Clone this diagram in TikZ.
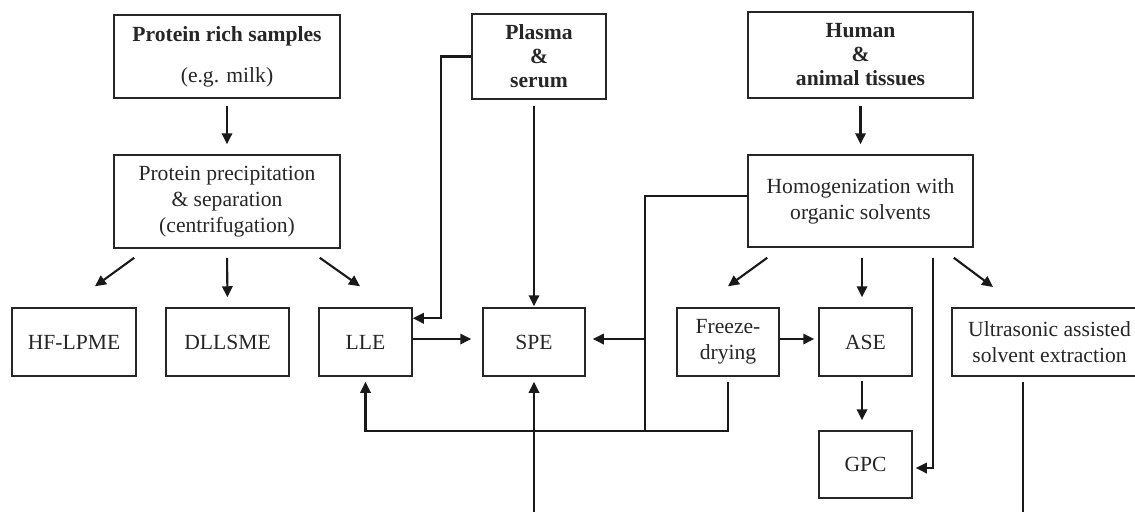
\documentclass[tikz,border=0pt]{standalone}
\usepackage{fontspec}
\setmainfont{Liberation Serif}
\usetikzlibrary{arrows.meta,calc}
\begin{document}
\begin{tikzpicture}[x=0.5pt,y=-0.5pt,
  box/.style={draw=black!85,line width=0.75pt,rectangle,inner sep=0pt,align=center,
    font=\fontsize{10.8}{13}\selectfont,text=black!85},
  bbox/.style={box,font=\fontsize{10.8}{12}\selectfont\bfseries},
  conn/.style={draw=black!90,line width=1.05pt},
  arr/.style={conn,-{Triangle[length=5.5pt,width=5.2pt]}}]
\useasboundingbox (0,0) rectangle (1135,511);
\clip (0,0) rectangle (1135,511);
% boxes
\node[box,minimum width=113pt,minimum height=41.5pt] (prs) at (227,56.5)
  {\textbf{Protein rich samples}\\[7.5pt](e.g. milk)};
\node[box,minimum width=113pt,minimum height=46.5pt] (ppt) at (227,201.5)
  {Protein precipitation\\\& separation\\(centrifugation)};
\node[bbox,minimum width=67pt,minimum height=42.5pt] (plasma) at (539,56.5)
  {Plasma\\\&\\serum};
\node[bbox,minimum width=112.5pt,minimum height=43pt] (human) at (860.5,55)
  {Human\\\&\\animal tissues};
\node[box,minimum width=112.5pt,minimum height=46pt] (homog) at (860.5,201)
  {Homogenization with\\organic solvents};
\node[box,minimum width=62pt,minimum height=34pt] (hf) at (74,342) {HF-LPME};
\node[box,minimum width=61.5pt,minimum height=34pt] (dll) at (227.5,342) {DLLSME};
\node[box,minimum width=46.5pt,minimum height=34pt] (lle) at (365.5,342) {LLE};
\node[box,minimum width=51pt,minimum height=34pt] (spe) at (534,342) {SPE};
\node[box,minimum width=51pt,minimum height=34pt] (frz) at (728,342) {Freeze-\\drying};
\node[box,minimum width=46.5pt,minimum height=34pt] (ase) at (865.5,342) {ASE};
\node[box,minimum width=46.5pt,minimum height=33.5pt] (gpc) at (865.5,464.5) {GPC};
\node[box,minimum width=97.5pt,minimum height=34pt] (ultra) at (1049.5,342)
  {Ultrasonic assisted\\solvent extraction};
% free ends
\coordinate (spein) at (534,515);
\coordinate (uout) at (1023,515);
\coordinate (bot) at (0,431);
% connectors
\draw[arr,shorten <=3.5pt,shorten >=5pt] (prs.south) -- (ppt.north);
\draw[arr,shorten <=3.5pt,shorten >=5pt] (human.south) -- (homog.north);
\draw[arr] ($(ppt.south west)+(21,9)$) -- ($(hf.north)+(21,-21)$);
\draw[arr,shorten <=4.5pt,shorten >=5pt] (ppt.south) -- (dll.north);
\draw[arr] ($(ppt.south east)+(-21,9)$) -- ($(lle.north)+(-5.5,-21)$);
\draw[arr] (plasma.west) -- ++(-30,0) |- ($(lle.north east)+(0,11)$);
\draw[arr,shorten <=3pt,shorten >=0.5pt] (spe.north |- plasma.south) -- (spe.north);
\draw[arr,shorten >=5.5pt] ($(lle.east)+(0,-3)$) -- ($(spe.west)+(0,-3)$);
\draw[conn] ($(homog.west)+(0,-5)$) -- ++(-102,0) coordinate (hj) -- (hj |- bot);
\draw[arr,shorten >=3.5pt] ($(hj |- spe.east)+(0,-3)$) -- ($(spe.east)+(0,-3)$);
\draw[arr,shorten <=2.5pt,shorten >=2.5pt] (frz.south) -- (frz.south |- bot) -| (lle.south);
\draw[arr,shorten >=2.5pt] (spein) -- (spe.south);
\draw[arr] ($(homog.south west)+(20,10)$) -- ($(frz.north)+(0,-21)$);
\draw[arr,shorten <=5pt,shorten >=5pt] ($(homog.south)+(1.5,0)$) -- ($(ase.north)+(-3.5,0)$);
\draw[arr] ($(homog.south east)+(-41,10)$) |- ($(gpc.east)+(3,3.5)$);
\draw[arr] ($(homog.south east)+(-20,10)$) -- (993,287);
\draw[arr,shorten >=2pt] ($(frz.east)+(0,-3)$) -- ($(ase.west)+(0,-3)$);
\draw[arr,shorten <=2pt,shorten >=5pt] ($(ase.south)+(-3.5,0)$) -- ($(gpc.north)+(-3.5,0)$);
\draw[conn,shorten <=2.5pt] (uout |- ultra.south) -- (uout);
\end{tikzpicture}
\end{document}
